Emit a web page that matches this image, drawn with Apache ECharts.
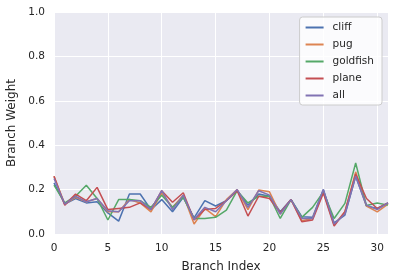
<!DOCTYPE html>
<html><head><meta charset="utf-8">
<script src="https://cdn.jsdelivr.net/npm/echarts@6/dist/echarts.min.js"></script>
<style>html,body{margin:0;padding:0;background:#fff}#c{width:394px;height:280px}</style>
</head><body><div id="c"></div>
<script>
const xIndex = Array.from({length:32},(_,i)=>i);
const seriesNames = ['cliff','pug','goldfish','plane','all'];
const cliff    = [0.23,0.135,0.16,0.14,0.145,0.095,0.058,0.18,0.18,0.11,0.155,0.10,0.165,0.073,0.15,0.126,0.15,0.195,0.13,0.18,0.17,0.10,0.155,0.078,0.075,0.20,0.05,0.085,0.26,0.126,0.115,0.14];
const pug      = [0.26,0.135,0.165,0.145,0.16,0.10,0.10,0.155,0.14,0.10,0.185,0.12,0.175,0.045,0.115,0.078,0.155,0.20,0.11,0.198,0.19,0.09,0.155,0.06,0.07,0.19,0.04,0.10,0.28,0.126,0.10,0.135];
const goldfish = [0.22,0.14,0.17,0.22,0.16,0.063,0.155,0.155,0.15,0.12,0.175,0.12,0.165,0.07,0.07,0.075,0.108,0.195,0.14,0.17,0.17,0.07,0.155,0.075,0.12,0.19,0.07,0.138,0.32,0.128,0.14,0.13];
const plane    = [0.26,0.13,0.18,0.15,0.21,0.11,0.115,0.12,0.14,0.11,0.195,0.143,0.186,0.063,0.11,0.115,0.15,0.195,0.081,0.17,0.16,0.096,0.155,0.055,0.063,0.185,0.036,0.10,0.27,0.16,0.115,0.14];
const all      = [0.25,0.135,0.17,0.145,0.16,0.105,0.10,0.15,0.15,0.11,0.195,0.11,0.175,0.065,0.12,0.10,0.15,0.20,0.12,0.195,0.175,0.09,0.155,0.07,0.07,0.20,0.045,0.09,0.26,0.13,0.11,0.14];
const yTicks = [0,0.2,0.4,0.6,0.8,1.0];
const colors = ['#4C72B0','#DD8452','#55A868','#C44E52','#8172B3'];
const values = [cliff,pug,goldfish,plane,all];

const chart = echarts.init(document.getElementById('c'));
const font = 'DejaVu Sans';
chart.setOption({
  animation:false,
  color:colors,
  grid:{left:54,right:6,top:12,bottom:46,show:true,backgroundColor:'#EAEAF2',borderWidth:0,outerBoundsMode:'none',containLabel:false},
  xAxis:{type:'value',min:0,max:31,interval:5,
    name:'Branch Index',nameLocation:'middle',nameGap:27,
    nameTextStyle:{fontFamily:font,fontSize:12,color:'#262626'},
    axisLine:{show:false},axisTick:{show:false},
    axisLabel:{fontFamily:font,fontSize:10.5,color:'#262626',margin:9},
    splitLine:{lineStyle:{color:'#fff',width:1}}},
  yAxis:{type:'value',min:0,max:1,interval:0.2,
    name:'Branch Weight',nameLocation:'middle',nameGap:31,
    nameTextStyle:{fontFamily:font,fontSize:12,color:'#262626'},
    axisLine:{show:false},axisTick:{show:false},
    axisLabel:{fontFamily:font,fontSize:10.5,color:'#262626',margin:9,formatter:v=>v.toFixed(1)},
    splitLine:{lineStyle:{color:'#fff',width:1}}},
  legend:{orient:'vertical',right:12,top:17,itemWidth:18,itemHeight:2,itemGap:6,icon:'rect',
    backgroundColor:'rgba(255,255,255,0.8)',borderColor:'#cccccc',borderWidth:1,borderRadius:3,
    padding:[5,8,4,6],
    textStyle:{fontFamily:font,fontSize:10.5,color:'#262626',padding:[0,0,0,4]},
    data:seriesNames},
  series:seriesNames.map((n,i)=>({name:n,type:'line',showSymbol:false,symbol:'none',
    lineStyle:{width:1.5},data:xIndex.map((x,j)=>[x,values[i][j]])}))
});
</script></body></html>
